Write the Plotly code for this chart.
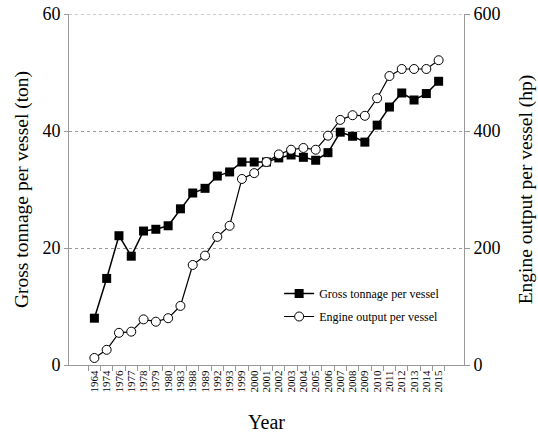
import plotly.graph_objects as go

years = ["1964", "1974", "1976", "1977", "1978", "1979", "1980", "1983", "1988", "1989",
         "1992", "1993", "1999", "2000", "2001", "2002", "2003", "2004", "2005", "2006",
         "2007", "2008", "2009", "2010", "2011", "2012", "2013", "2014", "2015"]
gross_tonnage = [8.0, 14.8, 22.1, 18.6, 22.9, 23.2, 23.8, 26.7, 29.4, 30.2,
                 32.3, 33.0, 34.7, 34.7, 34.7, 35.4, 35.9, 35.5, 35.0, 36.3,
                 39.8, 39.1, 38.1, 41.0, 44.1, 46.5, 45.3, 46.4, 48.5]
engine_output = [12, 26, 55, 57, 78, 74, 80, 101, 171, 187,
                 219, 238, 318, 328, 347, 360, 368, 371, 368, 392,
                 419, 427, 426, 456, 494, 506, 506, 506, 521]
left_ticks = [0, 20, 40, 60]
right_ticks = [0, 200, 400, 600]

font_family = "Liberation Serif, Times New Roman, serif"

fig = go.Figure()
fig.add_trace(go.Scatter(
    x=years, y=gross_tonnage, name="Gross tonnage per vessel",
    mode="lines+markers", legendgroup="g1",
    line=dict(color="black", width=1.5),
    marker=dict(symbol="square", size=9, color="black"),
    yaxis="y",
))
fig.add_trace(go.Scatter(
    x=years, y=engine_output, name="Engine output per vessel",
    mode="lines+markers", legendgroup="g2",
    line=dict(color="black", width=1.2),
    marker=dict(symbol="circle", size=9, color="white", line=dict(color="black", width=1)),
    yaxis="y2",
))

# dotted gridline at the top of the range (Plotly omits it at the edge)
fig.add_shape(type="line", xref="paper", yref="y", x0=0, x1=1,
              y0=left_ticks[-1], y1=left_ticks[-1],
              line=dict(color="#999999", width=1, dash="dot"), layer="below")

fig.update_layout(
    width=538, height=433,
    margin=dict(l=69, r=74, t=14, b=68, autoexpand=False),
    paper_bgcolor="white", plot_bgcolor="white",
    font=dict(family=font_family, color="black"),
    showlegend=True,
    legend=dict(x=0.532, y=0.245, xanchor="left", yanchor="top",
                bgcolor="rgba(0,0,0,0)", font=dict(size=12, family=font_family),
                tracegroupgap=4, itemwidth=30),
    xaxis=dict(
        type="category", categoryorder="array", categoryarray=years,
        tickmode="array", tickvals=years, ticktext=years,
        tickangle=-90, tickfont=dict(size=11, family=font_family),
        showline=True, linecolor="#999999", linewidth=1,
        ticks="outside", ticklen=5, tickcolor="#999999", tickson="boundaries",
        showgrid=False, zeroline=False, automargin=False,
        title=dict(text="Year", font=dict(size=20, family=font_family), standoff=24),
    ),
    yaxis=dict(
        range=[0, 60], tickmode="array", tickvals=left_ticks,
        tickfont=dict(size=18, family=font_family), ticklabeloverflow="allow",
        showline=True, linecolor="#999999", linewidth=1,
        ticks="outside", ticklen=4, tickcolor="#999999",
        showgrid=True, gridcolor="#999999", griddash="dot", gridwidth=1,
        zeroline=False, automargin=False,
        title=dict(text="Gross tonnage per vessel (ton)", font=dict(size=19.5, family=font_family), standoff=8),
    ),
    yaxis2=dict(
        range=[0, 600], tickmode="array", tickvals=right_ticks,
        overlaying="y", side="right",
        tickfont=dict(size=18, family=font_family), ticklabeloverflow="allow",
        showline=True, linecolor="#999999", linewidth=1,
        ticks="outside", ticklen=5, tickcolor="#999999",
        showgrid=False, zeroline=False, automargin=False,
        title=dict(text="Engine output per vessel (hp)", font=dict(size=19.5, family=font_family), standoff=18),
    ),
)

fig.write_html("out.html", config={"displayModeBar": False},
               post_script="document.body.style.margin='0';")
